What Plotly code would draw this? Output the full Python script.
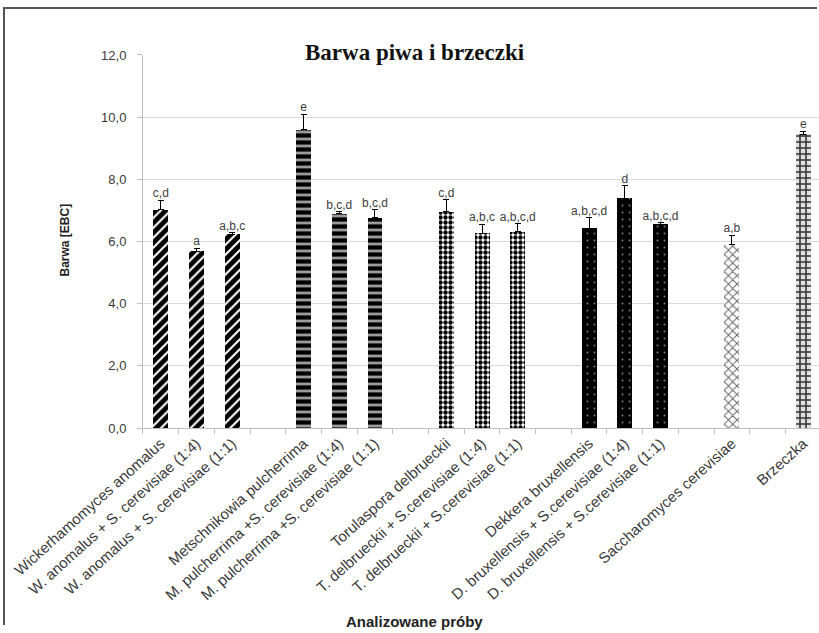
import plotly.graph_objects as go

# Sample groups (each group separated by an empty slot on the axis)
groups = [
    ["Wickerhamomyces anomalus",
     "W. anomalus + S. cerevisiae (1:4)",
     "W. anomalus + S. cerevisiae (1:1)"],
    ["Metschnikowia pulcherrima",
     "M. pulcherrima +S. cerevisiae (1:4)",
     "M. pulcherrima +S. cerevisiae (1:1)"],
    ["Torulaspora delbrueckii",
     "T. delbrueckii + S.cerevisiae (1:4)",
     "T. delbrueckii + S.cerevisiae (1:1)"],
    ["Dekkera bruxellensis",
     "D. bruxellensis + S.cerevisiae (1:4)",
     "D. bruxellensis + S.cerevisiae (1:1)"],
    ["Saccharomyces cerevisiae"],
    ["Brzeczka"],
]

# Colour in EBC units, standard deviation and significance letters
values = [[7.03, 5.68, 6.23],
          [9.60, 6.90, 6.77],
          [6.95, 6.26, 6.32],
          [6.42, 7.39, 6.55],
          [5.90],
          [9.45]]
errors = [[0.30, 0.10, 0.05],
          [0.50, 0.05, 0.25],
          [0.40, 0.30, 0.25],
          [0.35, 0.40, 0.05],
          [0.30],
          [0.10]]
letters = [["c,d", "a", "a,b,c"],
           ["e", "b,c,d", "b,c,d"],
           ["c,d", "a,b,c", "a,b,c,d"],
           ["a,b,c,d", "d", "a,b,c,d"],
           ["a,b"],
           ["e"]]

patterns = [
    dict(shape="/", fgcolor="#000000", bgcolor="white", size=7, solidity=0.7, fgopacity=1),
    dict(shape="-", fgcolor="#000000", bgcolor="#9c9c9c", size=7, solidity=0.6, fgopacity=1),
    dict(shape=".", fgcolor="#000000", bgcolor="white", size=5, solidity=0.6, fgopacity=1),
    dict(shape=".", fgcolor="#808080", bgcolor="#000000", size=7, solidity=0.06, fgopacity=1),
    dict(shape="x", fgcolor="#6a6a6a", bgcolor="white", size=6, solidity=0.3, fgopacity=1),
    dict(shape="+", fgcolor="#333333", bgcolor="#e0e0e0", size=6, solidity=0.45, fgopacity=1),
]

fig = go.Figure()

all_x, all_names, lab_x, lab_y, lab_t = [], [], [], [], []
slot = 0
for gi, names in enumerate(groups):
    xs = list(range(slot, slot + len(names)))
    fig.add_trace(go.Bar(
        x=xs, y=values[gi], width=0.42,
        marker=dict(pattern=patterns[gi], line=dict(width=0),
                    color=patterns[gi]["bgcolor"]),
        error_y=dict(type="data", array=errors[gi], symmetric=False,
                     arrayminus=[0] * len(names), color="black",
                     thickness=1, width=3),
        showlegend=False, hoverinfo="skip",
    ))
    all_x += xs
    all_names += names
    lab_x += xs
    lab_y += [v + e for v, e in zip(values[gi], errors[gi])]
    lab_t += letters[gi]
    slot += len(names) + 1

n_slots = slot - 1
x_range = [-0.5, 18.44]

fig.add_trace(go.Scatter(
    x=lab_x, y=lab_y, text=lab_t, mode="text", textposition="top center",
    textfont=dict(family="Liberation Sans", size=12, color="#404040"),
    xaxis="x2", cliponaxis=False, showlegend=False, hoverinfo="skip",
))

# Empty trace on the full-page axes that draw the chart frame
fig.add_trace(go.Scatter(x=[None], y=[None], xaxis="x3", yaxis="y3",
                         showlegend=False, hoverinfo="skip"))

axis_grey = "#bfbfbf"
frame_axis = dict(showline=True, linecolor="#555555", linewidth=1.5,
                  showgrid=False, zeroline=False, showticklabels=False,
                  ticks="", range=[0, 1], fixedrange=True, automargin=False)
fig.update_layout(
    width=819, height=633,
    margin=dict(l=5, r=0, t=9, b=0, autoexpand=False),
    paper_bgcolor="white", plot_bgcolor="rgba(0,0,0,0)",
    separators=", ",
    bargap=0,
    xaxis=dict(domain=[0.16953, 1.0], range=x_range, tickvals=all_x,
               ticktext=all_names, tickangle=-42, ticks="", showgrid=False,
               zeroline=False, showline=True, linecolor=axis_grey, linewidth=1,
               automargin=False,
               tickfont=dict(family="Liberation Sans", size=15, color="#3a3a3a")),
    xaxis2=dict(range=x_range, overlaying="x", anchor="y",
                tickvals=[i - 0.5 for i in range(n_slots + 2)],
                ticks="outside", ticklen=5, tickcolor=axis_grey,
                showticklabels=False, showgrid=False, zeroline=False,
                side="bottom", automargin=False),
    yaxis=dict(domain=[0.3285, 0.9263], range=[0, 12], dtick=2, tickformat=".1f",
               showgrid=True, gridcolor="#d9d9d9", gridwidth=1,
               showline=True, linecolor=axis_grey, zeroline=False,
               ticks="outside", ticklen=5, tickcolor=axis_grey,
               ticklabelstandoff=8, automargin=False,
               tickfont=dict(family="Liberation Sans", size=13, color="#3a3a3a")),
    xaxis3=dict(frame_axis, domain=[0, 0.998], anchor="y3", side="top"),
    yaxis3=dict(frame_axis, domain=[0.013, 1], anchor="x3", side="left"),
)

fig.add_annotation(text="<b>Barwa piwa i brzeczki</b>", xref="x domain", yref="y domain",
                   x=0.402, y=1.046, showarrow=False,
                   font=dict(family="Liberation Serif", size=23, color="#111111"))
fig.add_annotation(text="<b>Barwa [EBC]</b>", xref="x domain", yref="y domain",
                   x=-0.128, y=0.504, textangle=-90, showarrow=False,
                   font=dict(family="Liberation Sans", size=12, color="#222222"))
fig.add_annotation(text="<b>Analizowane próby</b>", xref="x domain", yref="y domain",
                   x=0.402, y=-0.547, showarrow=False,
                   font=dict(family="Liberation Sans", size=15, color="#222222"))

fig.write_html("out.html")
